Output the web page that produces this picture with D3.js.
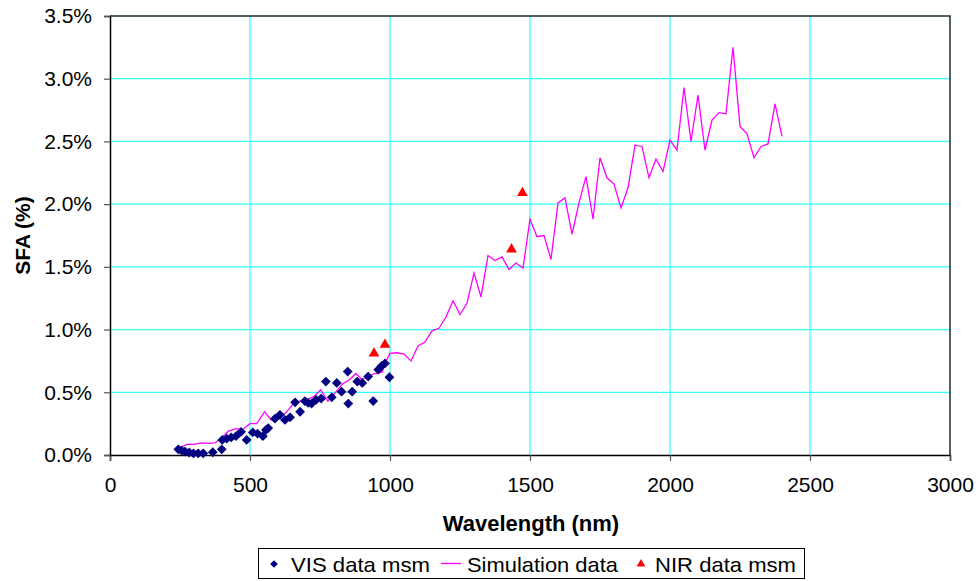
<!DOCTYPE html>
<html>
<head>
<meta charset="utf-8">
<script src="https://cdn.jsdelivr.net/npm/d3@7"></script>
<style>
  body { margin: 0; background: #fff; }
  svg { font-family: "Liberation Sans", Arial, sans-serif; }
</style>
</head>
<body>
<svg id="chart"></svg>
<script>
const width = 979;
const height = 581;

// VIS measurements (wavelength nm, SFA %)
const visWl = [244, 256, 268, 283, 298, 315, 333, 367, 399, 401, 417, 433, 450, 468, 488, 510, 527, 546, 557, 565,
  589, 607, 625, 643, 661, 679, 696, 708, 720, 736, 754, 771, 792, 810, 827, 849, 851, 865, 883, 901,
  922, 940, 958, 970, 982, 998];
const visSfa = [0.045, 0.035, 0.027, 0.02, 0.013, 0.013, 0.013, 0.022, 0.045, 0.12, 0.13, 0.14, 0.15, 0.185, 0.12, 0.18, 0.17, 0.15, 0.20, 0.215,
  0.29, 0.32, 0.28, 0.30, 0.42, 0.345, 0.43, 0.415, 0.41, 0.44, 0.45, 0.585, 0.46, 0.575, 0.505, 0.665, 0.41, 0.505, 0.585, 0.575,
  0.625, 0.43, 0.68, 0.71, 0.73, 0.62];

// simulation
const simWl = [250, 275, 300, 325, 350, 375, 395, 423, 450, 472, 500, 524, 552, 576, 600, 625, 652, 678, 702, 728,
  752, 778, 802, 830, 855, 878, 900, 924, 948, 972, 982, 1000, 1025, 1050, 1075, 1100, 1125, 1150, 1175, 1200,
  1225, 1250, 1275, 1300, 1325, 1350, 1375, 1400, 1425, 1450, 1475, 1500, 1525, 1550, 1575, 1600, 1625, 1650, 1675, 1700,
  1725, 1750, 1775, 1800, 1825, 1850, 1875, 1900, 1925, 1950, 1975, 2000, 2025, 2050, 2075, 2100, 2125, 2150, 2175, 2200,
  2225, 2250, 2275, 2300, 2325, 2350, 2375, 2400];
const simSfa = [0.06, 0.085, 0.085, 0.097, 0.092, 0.097, 0.13, 0.19, 0.21, 0.20, 0.25, 0.25, 0.345, 0.28, 0.30, 0.33, 0.40, 0.43, 0.44, 0.465,
  0.52, 0.43, 0.49, 0.566, 0.60, 0.65, 0.60, 0.63, 0.65, 0.66, 0.73, 0.81, 0.815, 0.805, 0.75, 0.87, 0.90, 0.99, 1.01, 1.10,
  1.23, 1.12, 1.21, 1.45, 1.26, 1.59, 1.55, 1.58, 1.48, 1.53, 1.49, 1.88, 1.74, 1.75, 1.56, 2.01, 2.05, 1.76, 2.01, 2.22,
  1.88, 2.37, 2.21, 2.16, 1.97, 2.13, 2.47, 2.46, 2.21, 2.36, 2.26, 2.51, 2.43, 2.93, 2.50, 2.87, 2.43, 2.67, 2.73, 2.72,
  3.25, 2.62, 2.56, 2.37, 2.46, 2.48, 2.80, 2.54];

// NIR measurements
const nirWl = [943, 982, 1434, 1473];
const nirSfa = [0.81, 0.88, 1.64, 2.09];

const xTicks = [0, 500, 1000, 1500, 2000, 2500, 3000];
const yTicks = [0, 0.5, 1.0, 1.5, 2.0, 2.5, 3.0, 3.5];

const margin = { left: 110, right: 29, top: 16, bottom: 126 };

const svg = d3.select('#chart')
  .attr('width', width)
  .attr('height', height);

const x = d3.scaleLinear().domain([0, 3000]).range([margin.left, width - margin.right]);
const y = d3.scaleLinear().domain([0, 3.5]).range([height - margin.bottom, margin.top]);

// grid
svg.append('g')
  .selectAll('line.hg')
  .data(yTicks.slice(1, -1))
  .enter().append('line')
  .attr('x1', x(0)).attr('x2', x(3000))
  .attr('y1', d => y(d)).attr('y2', d => y(d))
  .attr('stroke', '#33ffff').attr('stroke-width', 1.2);
svg.append('g')
  .selectAll('line.vg')
  .data(xTicks.slice(1, -1))
  .enter().append('line')
  .attr('x1', d => x(d)).attr('x2', d => x(d))
  .attr('y1', y(0)).attr('y2', y(3.5))
  .attr('stroke', '#33ffff').attr('stroke-width', 1.2);

// plot border top/right
svg.append('path')
  .attr('d', `M${x(0)},${y(3.5)}H${x(3000)}V${y(0)}`)
  .attr('fill', 'none').attr('stroke', '#1a2e2e').attr('stroke-width', 1.5);

// axes
const xAxis = svg.append('g')
  .attr('transform', `translate(0,${y(0)})`)
  .call(d3.axisBottom(x).tickValues(xTicks).tickSize(6).tickPadding(16).tickFormat(d3.format('d')));
const yAxis = svg.append('g')
  .attr('transform', `translate(${x(0)},0)`)
  .call(d3.axisLeft(y).tickValues(yTicks).tickSize(6).tickPadding(12).tickFormat(d => d.toFixed(1) + '%'));

[xAxis, yAxis].forEach(a => {
  a.select('.domain').attr('stroke', '#000').attr('stroke-width', 1.5);
  a.selectAll('.tick line').attr('stroke', '#555').attr('stroke-width', 1.2);
  a.selectAll('text').attr('font-size', 21).attr('fill', '#000')
    .attr('font-family', '"Liberation Sans", Arial, sans-serif');
});

// simulation line
const line = d3.line().x((d, i) => x(simWl[i])).y(d => y(d));
svg.append('path')
  .datum(simSfa)
  .attr('d', line)
  .attr('fill', 'none')
  .attr('stroke', '#ff00ff')
  .attr('stroke-width', 1.3);

// VIS diamonds
const diamond = d3.symbol().type(d3.symbolSquare).size(48);
svg.append('g')
  .selectAll('path')
  .data(visSfa)
  .enter().append('path')
  .attr('d', diamond)
  .attr('transform', (d, i) => `translate(${x(visWl[i])},${y(d)}) rotate(45)`)
  .attr('fill', '#000080');

// NIR triangles
const tri = d3.symbol().type(d3.symbolTriangle).size(50);
svg.append('g')
  .selectAll('path')
  .data(nirSfa)
  .enter().append('path')
  .attr('d', tri)
  .attr('transform', (d, i) => `translate(${x(nirWl[i])},${y(d)})`)
  .attr('fill', '#ff0000');

// axis titles
svg.append('text')
  .attr('x', (x(0) + x(3000)) / 2 + 1)
  .attr('y', 531)
  .attr('text-anchor', 'middle')
  .attr('font-size', 22).attr('font-weight', 'bold')
  .text('Wavelength (nm)');
svg.append('text')
  .attr('transform', `translate(30,${(y(0) + y(3.5)) / 2}) rotate(-90)`)
  .attr('text-anchor', 'middle')
  .attr('font-size', 21).attr('font-weight', 'bold')
  .text('SFA (%)');

// legend
const leg = svg.append('g');
leg.append('rect')
  .attr('x', 258.5).attr('y', 548.5).attr('width', 546).attr('height', 30)
  .attr('fill', '#fff').attr('stroke', '#000').attr('stroke-width', 1);
leg.append('path')
  .attr('d', d3.symbol().type(d3.symbolSquare).size(30))
  .attr('transform', 'translate(274,564) rotate(45)')
  .attr('fill', '#000080');
leg.append('text').attr('x', 291).attr('y', 571.5).attr('font-size', 21)
  .attr('textLength', 139).attr('lengthAdjust', 'spacingAndGlyphs').text('VIS data msm');
leg.append('line')
  .attr('x1', 441).attr('x2', 461).attr('y1', 563.5).attr('y2', 563.5)
  .attr('stroke', '#ff00ff').attr('stroke-width', 1.3);
leg.append('text').attr('x', 467).attr('y', 571.5).attr('font-size', 21)
  .attr('textLength', 151).attr('lengthAdjust', 'spacingAndGlyphs').text('Simulation data');
leg.append('path')
  .attr('d', d3.symbol().type(d3.symbolTriangle).size(32))
  .attr('transform', 'translate(641,564)')
  .attr('fill', '#ff0000');
leg.append('text').attr('x', 655).attr('y', 571.5).attr('font-size', 21)
  .attr('textLength', 141).attr('lengthAdjust', 'spacingAndGlyphs').text('NIR data msm');
</script>
</body>
</html>
